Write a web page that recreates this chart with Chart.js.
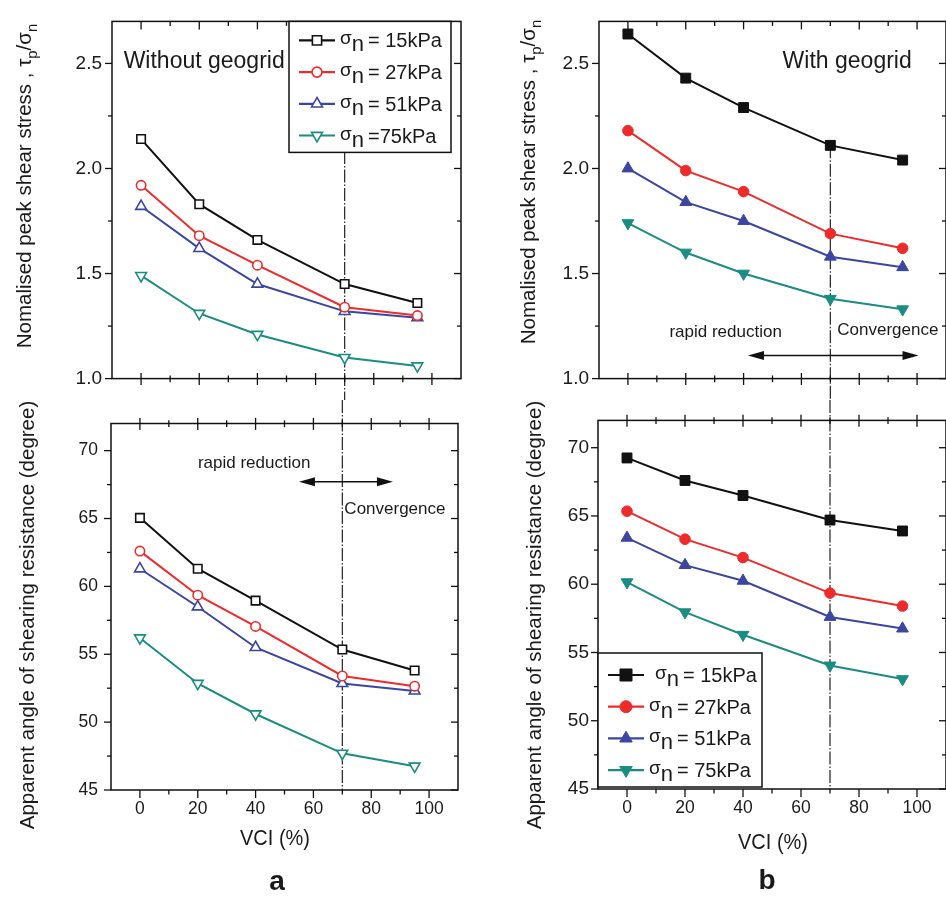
<!DOCTYPE html>
<html>
<head>
<meta charset="utf-8">
<script src="https://cdn.jsdelivr.net/npm/chart.js@4.4.0/dist/chart.umd.min.js"></script>
<style>
  html, body { margin: 0; padding: 0; background: #fff; }
  #wrap { position: relative; width: 946px; height: 898px; overflow: hidden; font-family: "Liberation Sans", Arial, sans-serif; color: #1a1a1a; }
  #wrap canvas { position: absolute; }
  .ytitle { position: absolute; white-space: nowrap; font-size: 20.5px; transform: translate(-50%, -50%) rotate(-90deg); }
  .ytitle sub { font-size: 15px; }
  .xtitle { position: absolute; white-space: nowrap; font-size: 20px; transform: translate(-50%, -50%) scaleY(1.12); }
  .tag { position: absolute; font-weight: bold; font-size: 28px; transform: translate(-50%, -50%); }
</style>
</head>
<body>
<div id="wrap">
  <canvas id="peakNo" width="470" height="400" style="left:0;top:0"></canvas>
  <canvas id="peakGeo" width="490" height="400" style="left:470px;top:0"></canvas>
  <canvas id="angleNo" width="470" height="498" style="left:0;top:400px"></canvas>
  <canvas id="angleGeo" width="490" height="498" style="left:470px;top:400px"></canvas>

  <div class="ytitle" style="left:26px;top:186px">Nomalised peak shear stress , &tau;<sub>p</sub>/&sigma;<sub>n</sub></div>
  <div class="ytitle" style="left:530px;top:182px">Nomalised peak shear stress , &tau;<sub>p</sub>/&sigma;<sub>n</sub></div>
  <div class="ytitle" style="left:27px;top:615px">Apparent angle of shearing resistance (degree)</div>
  <div class="ytitle" style="left:534px;top:615px">Apparent angle of shearing resistance (degree)</div>

  <div class="xtitle" style="left:275px;top:838px">VCI (%)</div>
  <div class="xtitle" style="left:773px;top:842px">VCI (%)</div>
  <div class="tag" style="left:277px;top:881px">a</div>
  <div class="tag" style="left:767px;top:880px">b</div>
</div>

<script>
// VCI values (x)
const vci = [0, 20, 40, 70, 95];

// normalised peak shear stress, without geogrid
const peakNo15 = [2.14, 1.83, 1.66, 1.45, 1.36];
const peakNo27 = [1.92, 1.68, 1.54, 1.34, 1.30];
const peakNo51 = [1.82, 1.62, 1.45, 1.32, 1.29];
const peakNo75 = [1.49, 1.31, 1.21, 1.10, 1.06];

// normalised peak shear stress, with geogrid
const peakGeo15 = [2.64, 2.43, 2.29, 2.11, 2.04];
const peakGeo27 = [2.18, 1.99, 1.89, 1.69, 1.62];
const peakGeo51 = [2.00, 1.84, 1.75, 1.58, 1.53];
const peakGeo75 = [1.74, 1.60, 1.50, 1.38, 1.33];

// apparent angle of shearing resistance, without geogrid
const angleNo15 = [65.05, 61.3, 58.95, 55.35, 53.8];
const angleNo27 = [62.6, 59.35, 57.05, 53.4, 52.65];
const angleNo51 = [61.3, 58.5, 55.5, 52.85, 52.3];
const angleNo75 = [56.2, 52.85, 50.6, 47.7, 46.75];

// apparent angle of shearing resistance, with geogrid
const angleGeo15 = [69.25, 67.6, 66.5, 64.7, 63.9];
const angleGeo27 = [65.35, 63.3, 61.95, 59.35, 58.4];
const angleGeo51 = [63.4, 61.4, 60.25, 57.6, 56.75];
const angleGeo75 = [60.15, 57.95, 56.3, 54.05, 53.05];

// legend text (after "σn")
const legendNo = ["= 15kPa", "= 27kPa", "= 51kPa", "=75kPa"];
const legendGeo = ["= 15kPa", "= 27kPa", "= 51kPa", "= 75kPa"];

// tick labels
const xTicks = [0, 20, 40, 60, 80, 100];
const xMinor = [10, 30, 50, 70, 90];
const peakTicks = [1.0, 1.5, 2.0, 2.5];
const peakMinor = [1.25, 1.75, 2.25];
const angleTicks = [45, 50, 55, 60, 65, 70];
const angleMinor = [47.5, 52.5, 57.5, 62.5, 67.5];

const boundaryVci = 70;

const colors = ["#111111", "#ee2b2b", "#3a46a0", "#1a8c82"];
const markerStyles = ["rect", "circle", "triangle", "triangle"];
const markerRot = [0, 0, 0, 180];
const openRadius = [6, 4.7, 6.2, 6.2];
const filledRadius = [7, 5.3, 6.8, 6.8];

const textFont = '"Liberation Sans", Arial, sans-serif';
const smallTickFont = { family: textFont, size: 17.5 };
const peakFont = { family: textFont, size: 19 };

function buildDatasets(list, labels, filled) {
  return list.map((vals, i) => ({
    label: "σn " + labels[i],
    data: vci.map((v, j) => ({ x: v, y: vals[j] })),
    borderColor: colors[i],
    backgroundColor: colors[i],
    borderWidth: 2,
    pointStyle: markerStyles[i],
    pointRotation: markerRot[i],
    pointRadius: filled ? filledRadius[i] : openRadius[i],
    pointBorderWidth: filled ? 1 : 1.6,
    pointBackgroundColor: filled ? colors[i] : "#ffffff",
    pointBorderColor: colors[i],
    legendText: labels[i],
    tension: 0
  }));
}

// dash-dot line at the rapid reduction / convergence boundary
const boundaryLine = {
  id: "boundaryLine",
  beforeDatasetsDraw(chart, args, o) {
    const ctx = chart.ctx, ca = chart.chartArea;
    const x = chart.scales.x.getPixelForValue(boundaryVci);
    let y0 = o.fromTop ? 0 : ca.top;
    if (o.startValue != null) y0 = chart.scales.y.getPixelForValue(o.startValue);
    const y1 = o.toBottom ? chart.height : ca.bottom;
    ctx.save();
    ctx.strokeStyle = "#222";
    ctx.lineWidth = 1.2;
    ctx.setLineDash([13, 2, 1.5, 2]);
    ctx.beginPath();
    ctx.moveTo(x, y0);
    ctx.lineTo(x, y1);
    ctx.stroke();
    ctx.restore();
  }
};

// box frame with major / minor ticks on all sides
const frameTicks = {
  id: "frameTicks",
  afterDatasetsDraw(chart, args, o) {
    const ctx = chart.ctx, ca = chart.chartArea;
    const sx = chart.scales.x, sy = chart.scales.y;
    ctx.save();
    ctx.strokeStyle = "#111";
    ctx.lineWidth = 1.5;
    ctx.strokeRect(ca.left, ca.top, ca.right - ca.left, ca.bottom - ca.top);
    ctx.lineWidth = 1.3;
    const seg = (x0, y0, x1, y1) => { ctx.beginPath(); ctx.moveTo(x0, y0); ctx.lineTo(x1, y1); ctx.stroke(); };
    const vTick = (x, yEdge, len, dir) => {
      if (dir === "down") seg(x, yEdge, x, yEdge + len);
      else if (dir === "up") seg(x, yEdge, x, yEdge - len);
      else seg(x, yEdge - len * 0.7, x, yEdge + len * 0.8);
    };
    const hTick = (y, xEdge, len) => seg(xEdge, y, xEdge - len, y);
    o.xMajor.forEach(v => {
      const x = sx.getPixelForValue(v);
      vTick(x, ca.bottom, 8, o.bottomDir);
      vTick(x, ca.top, 8, o.topDir);
    });
    o.xMinor.forEach(v => {
      const x = sx.getPixelForValue(v);
      vTick(x, ca.bottom, 4.5, o.bottomDir);
      vTick(x, ca.top, 4.5, o.topDir);
    });
    o.yMajor.forEach(v => {
      const y = sy.getPixelForValue(v);
      hTick(y, ca.left, 7);
      hTick(y, ca.right, 7);
    });
    o.yMinor.forEach(v => {
      const y = sy.getPixelForValue(v);
      hTick(y, ca.left, 4);
      hTick(y, ca.right, 4);
    });
    ctx.restore();
  }
};

// in-plot notes: labels and the double arrow
const notes = {
  id: "notes",
  afterDatasetsDraw(chart, args, o) {
    const ctx = chart.ctx;
    const sx = chart.scales.x, sy = chart.scales.y;
    ctx.save();
    ctx.fillStyle = "#1a1a1a";
    ctx.strokeStyle = "#111";
    (o.items || []).forEach(it => {
      if (it.type === "text") {
        ctx.font = it.size + "px " + textFont;
        ctx.textAlign = it.align || "left";
        ctx.textBaseline = "middle";
        ctx.fillText(it.text, sx.getPixelForValue(it.x), sy.getPixelForValue(it.y));
      } else if (it.type === "arrow") {
        const x1 = sx.getPixelForValue(it.x1), x2 = sx.getPixelForValue(it.x2), y = sy.getPixelForValue(it.y);
        ctx.lineWidth = 1.5;
        ctx.beginPath(); ctx.moveTo(x1 + 6, y); ctx.lineTo(x2 - 6, y); ctx.stroke();
        ctx.fillStyle = "#111";
        ctx.beginPath(); ctx.moveTo(x1, y); ctx.lineTo(x1 + 16, y - 4.5); ctx.lineTo(x1 + 16, y + 4.5); ctx.closePath(); ctx.fill();
        ctx.beginPath(); ctx.moveTo(x2, y); ctx.lineTo(x2 - 16, y - 4.5); ctx.lineTo(x2 - 16, y + 4.5); ctx.closePath(); ctx.fill();
        ctx.fillStyle = "#1a1a1a";
      }
    });
    ctx.restore();
  }
};

// framed legend with σ and subscript n
const boxLegend = {
  id: "boxLegend",
  afterDraw(chart, args, o) {
    if (!o.show) return;
    const ctx = chart.ctx, ca = chart.chartArea;
    const bx = ca.left + o.dx;
    const by = o.fromBottom ? ca.bottom - o.dy - o.h : ca.top + o.dy;
    ctx.save();
    ctx.fillStyle = "#fff";
    ctx.fillRect(bx, by, o.w, o.h);
    ctx.strokeStyle = "#111";
    ctx.lineWidth = 1.5;
    ctx.strokeRect(bx, by, o.w, o.h);
    chart.data.datasets.forEach((ds, i) => {
      const y = by + o.firstRow + i * o.rowGap;
      ctx.strokeStyle = ds.borderColor;
      ctx.lineWidth = 2.2;
      ctx.beginPath(); ctx.moveTo(bx + 10, y); ctx.lineTo(bx + 46, y); ctx.stroke();
      ctx.fillStyle = ds.pointBackgroundColor;
      ctx.lineWidth = ds.pointBorderWidth;
      if (Chart.helpers && Chart.helpers.drawPoint) {
        Chart.helpers.drawPoint(ctx, { pointStyle: ds.pointStyle, rotation: ds.pointRotation, radius: o.markerR[i], borderWidth: ds.pointBorderWidth }, bx + 28, y);
      }
      ctx.fillStyle = "#1a1a1a";
      ctx.textBaseline = "alphabetic";
      ctx.textAlign = "left";
      let tx = bx + (o.textX[i] != null ? o.textX[i] : o.textX[0]);
      ctx.font = "19px " + textFont;
      ctx.fillText("σ", tx, y + 4);
      tx += ctx.measureText("σ").width;
      ctx.font = "22px " + textFont;
      ctx.fillText("n", tx, y + 11);
      tx += ctx.measureText("n").width + 4;
      ctx.font = "20px " + textFont;
      ctx.fillText(ds.legendText, tx, y + 7);
    });
    ctx.restore();
  }
};

function makePanel(id, cfg) {
  const ctx = document.getElementById(id).getContext("2d");
  return new Chart(ctx, {
    type: "line",
    data: { datasets: buildDatasets(cfg.series, cfg.labels, cfg.filled) },
    options: {
      responsive: false,
      animation: false,
      devicePixelRatio: 1,
      layout: { padding: cfg.padding },
      plugins: {
        legend: { display: false },
        tooltip: { enabled: false },
        boundaryLine: cfg.line,
        frameTicks: cfg.frame,
        notes: { items: cfg.notes },
        boxLegend: cfg.legend
      },
      scales: {
        x: {
          type: "linear",
          min: -10,
          max: 110,
          afterBuildTicks: s => { s.ticks = xTicks.map(v => ({ value: v })); },
          ticks: { display: cfg.showX, font: smallTickFont, color: "#1a1a1a", padding: 9, maxRotation: 0 },
          grid: { display: false, drawTicks: false },
          border: { display: false },
          afterFit: s => { s.height = cfg.xH; }
        },
        y: {
          type: "linear",
          min: cfg.yMin,
          max: cfg.yMax,
          afterBuildTicks: s => { s.ticks = cfg.yTicks.map(v => ({ value: v })); },
          ticks: { font: cfg.yFont, color: "#1a1a1a", padding: cfg.yPad, callback: cfg.fmt },
          grid: { display: false, drawTicks: false },
          border: { display: false },
          afterFit: s => { s.width = cfg.yW; }
        }
      }
    },
    plugins: [boundaryLine, frameTicks, notes, boxLegend]
  });
}

const fmtPeak = v => Number(v).toFixed(1);
const fmtAngle = v => String(v);

makePanel("peakNo", {
  series: [peakNo15, peakNo27, peakNo51, peakNo75], labels: legendNo, filled: false,
  padding: { top: 12, right: 9, left: 0, bottom: 0 }, yW: 112, xH: 18, showX: false,
  yMin: 1.0, yMax: 2.7, yTicks: peakTicks, fmt: fmtPeak, yFont: peakFont, yPad: 10,
  line: { fromTop: false, toBottom: true },
  frame: { xMajor: xTicks, xMinor: xMinor, yMajor: peakTicks, yMinor: peakMinor, bottomDir: "cross", topDir: "down" },
  notes: [{ type: "text", text: "Without geogrid", x: -6, y: 2.51, size: 23 }],
  legend: { show: true, dx: 177, dy: 0, w: 162, h: 131, firstRow: 19, rowGap: 31.7, textX: [51], markerR: [6.5, 5, 6.3, 6.3] }
});

makePanel("peakGeo", {
  series: [peakGeo15, peakGeo27, peakGeo51, peakGeo75], labels: legendGeo, filled: true,
  padding: { top: 13, right: 14, left: 0, bottom: 0 }, yW: 129, xH: 17, showX: false,
  yMin: 1.0, yMax: 2.7, yTicks: peakTicks, fmt: fmtPeak, yFont: peakFont, yPad: 10,
  line: { startValue: peakGeo15[3], toBottom: true },
  frame: { xMajor: xTicks, xMinor: xMinor, yMajor: peakTicks, yMinor: peakMinor, bottomDir: "cross", topDir: "down" },
  notes: [
    { type: "text", text: "With geogrid", x: 53.5, y: 2.51, size: 23 },
    { type: "text", text: "rapid reduction", x: 33.8, y: 1.22, size: 17, align: "center" },
    { type: "text", text: "Convergence", x: 72.4, y: 1.23, size: 17 },
    { type: "arrow", x1: 41.5, x2: 100.5, y: 1.11 }
  ],
  legend: { show: false }
});

makePanel("angleNo", {
  series: [angleNo15, angleNo27, angleNo51, angleNo75], labels: legendNo, filled: false,
  padding: { top: 15, right: 12, left: 0, bottom: 0 }, yW: 111, xH: 108, showX: true,
  yMin: 45, yMax: 72, yTicks: angleTicks, fmt: fmtAngle, yFont: smallTickFont, yPad: 13,
  line: { fromTop: true, toBottom: false },
  frame: { xMajor: xTicks, xMinor: xMinor, yMajor: angleTicks, yMinor: angleMinor, bottomDir: "down", topDir: "cross" },
  notes: [
    { type: "text", text: "rapid reduction", x: 39.5, y: 69.05, size: 17, align: "center" },
    { type: "text", text: "Convergence", x: 70.7, y: 65.65, size: 17 },
    { type: "arrow", x1: 55, x2: 87.5, y: 67.7 }
  ],
  legend: { show: false }
});

makePanel("angleGeo", {
  series: [angleGeo15, angleGeo27, angleGeo51, angleGeo75], labels: legendGeo, filled: true,
  padding: { top: 18, right: 14, left: 0, bottom: 0 }, yW: 128, xH: 109, showX: true,
  yMin: 45, yMax: 72, yTicks: angleTicks, fmt: fmtAngle, yFont: peakFont, yPad: 9,
  line: { fromTop: true, toBottom: false },
  frame: { xMajor: xTicks, xMinor: xMinor, yMajor: angleTicks, yMinor: angleMinor, bottomDir: "down", topDir: "cross" },
  notes: [],
  legend: { show: true, fromBottom: true, dx: 0, dy: 2, w: 164, h: 134, firstRow: 22, rowGap: 31.7, textX: [57, 51, 51, 51], markerR: [8.5, 6, 7.2, 7.2] }
});
</script>
</body>
</html>
